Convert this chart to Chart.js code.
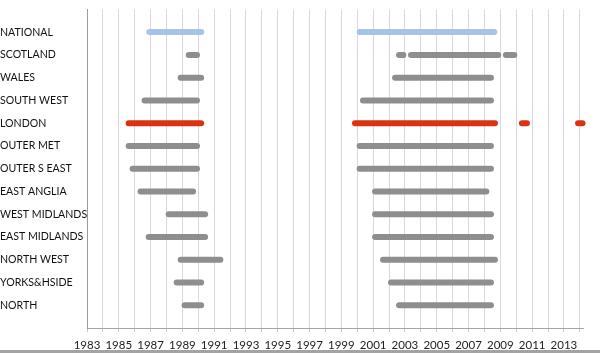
<!DOCTYPE html>
<html>
<head>
<meta charset="utf-8">
<script src="https://cdn.jsdelivr.net/npm/chart.js@4"></script>
<style>
  html, body { margin: 0; padding: 0; background: #fff; }
  #wrap { width: 600px; height: 350px; border-bottom: 3px solid #a3a3a3; }
</style>
</head>
<body>
<div id="wrap"><canvas id="chart" width="600" height="350"></canvas></div>
<script>
// regions, top to bottom
const regions = ['NATIONAL', 'SCOTLAND', 'WALES', 'SOUTH WEST', 'LONDON', 'OUTER MET', 'OUTER S EAST',
  'EAST ANGLIA', 'WEST MIDLANDS', 'EAST MIDLANDS', 'NORTH WEST', 'YORKS&HSIDE', 'NORTH']

// first period (late 80s) [from, to]
const early = [
  [1986.92, 1990.18], [1989.40, 1989.92], [1988.89, 1990.18], [1986.62, 1989.92],
  [1985.62, 1990.18], [1985.62, 1989.92], [1985.87, 1989.92], [1986.37, 1989.67],
  [1988.14, 1990.43], [1986.88, 1990.43], [1988.89, 1991.39], [1988.64, 1990.18],
  [1989.14, 1990.18],
]

// second period (2000s) [from, to]
const late = [
  [2000.15, 2008.62], [2003.38, 2008.87], [2002.38, 2008.41], [2000.36, 2008.41],
  [1999.86, 2008.66], [2000.15, 2008.41], [2000.15, 2008.41], [2001.12, 2008.12],
  [2001.12, 2008.41], [2001.12, 2008.41], [2001.62, 2008.66], [2002.12, 2008.41],
  [2002.63, 2008.41],
]

// short extra spells
const extraRegion = ['SCOTLAND', 'SCOTLAND', 'LONDON', 'LONDON']
const extraFrom = [2002.63, 2009.35, 2010.36, 2013.89]
const extraTo = [2002.90, 2009.88, 2010.67, 2014.17]

const xMin = 1983
const xMax = 2014.2

function regionColour(name) {
  if (name == 'NATIONAL') return '#a8c3e8'
  if (name == 'LONDON') return '#d9330f'
  return '#8e8e8e'
}

function yOf(name) {
  return regions.length - regions.indexOf(name)
}

function segment(name, from, to) {
  let colour = regionColour(name)
  return {
    type: 'scatter',
    showLine: true,
    data: [{x: from, y: yOf(name)}, {x: to, y: yOf(name)}],
    borderColor: colour,
    backgroundColor: colour,
    borderWidth: 6,
    borderCapStyle: 'round',
    pointRadius: 0,
    pointHoverRadius: 0,
    clip: false,
  }
}

let datasets = []
regions.forEach((name, i) => {
  datasets.push(segment(name, early[i][0], early[i][1]))
  datasets.push(segment(name, late[i][0], late[i][1]))
})
for (let i = 0; i < extraRegion.length; ++i)
  datasets.push(segment(extraRegion[i], extraFrom[i], extraTo[i]))

let ctx = document.getElementById('chart').getContext('2d')
new Chart(ctx, {
  type: 'scatter',
  data: {datasets: datasets},
  options: {
    responsive: false,
    animation: false,
    devicePixelRatio: 1,
    layout: {padding: {top: 4, right: 17, left: 0, bottom: 0}},
    plugins: {legend: {display: false}, tooltip: {enabled: false}},
    scales: {
      x: {
        type: 'linear',
        min: xMin,
        max: xMax,
        afterBuildTicks: scale => {
          let ticks = []
          for (let y = xMin; y <= xMax; ++y) ticks.push({value: y})
          scale.ticks = ticks
        },
        afterFit: scale => { scale.height = 22 },
        grid: {color: '#d9d9d9', lineWidth: 1, tickLength: 4, tickColor: '#c8c8c8'},
        border: {display: true, color: '#a6a6a6', width: 1},
        ticks: {
          autoSkip: false,
          maxRotation: 0,
          padding: 6,
          color: '#222',
          font: {family: 'Lato', size: 11.5},
          callback: v => (v % 2 == 1 ? String(v) : ''),
        },
      },
      y: {
        type: 'linear',
        min: 0,
        max: 14,
        afterBuildTicks: scale => {
          let ticks = []
          for (let v = 0; v <= 14; ++v) ticks.push({value: v})
          scale.ticks = ticks
        },
        afterFit: scale => { scale.width = 87 },
        grid: {display: false},
        border: {display: true, color: '#9a9a9a', width: 1},
        ticks: {
          autoSkip: false,
          crossAlign: 'far',
          color: '#111',
          font: {family: 'Lato', size: 10.6},
          callback: v => (v >= 1 && v <= regions.length ? regions[regions.length - v] : ''),
        },
      },
    },
  },
})
</script>
</body>
</html>
